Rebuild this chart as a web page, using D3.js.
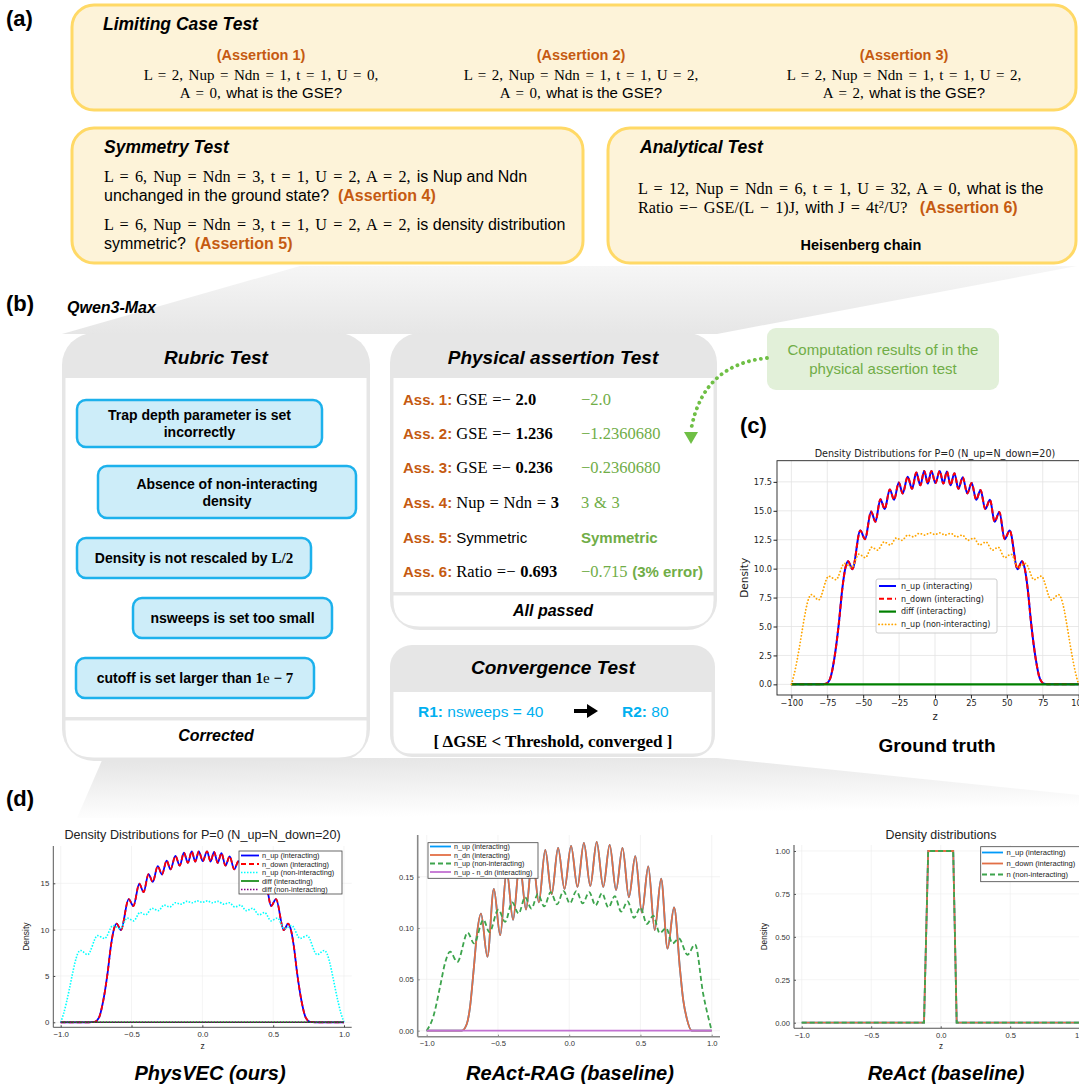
<!DOCTYPE html>
<html><head><meta charset="utf-8">
<script src="https://cdn.jsdelivr.net/npm/d3@7"></script>
<style>
body{margin:0;background:#fff;}
svg{display:block;}
text{white-space:pre;}
</style></head><body>
<svg id="fig" width="1079" height="1090"></svg>
<script>
// ---------- (c) ground truth, positions in lattice sites ----------
const cIntZ = [-100,-80,-76,-73,-70,-67,-64.5,-62.5,-60.5,-57.5,-52,-48.7,-44.5,-41.5,-38,-35,-31.5,-28.5,-25.2,-22.5,-19,-16,-13,-10.2,-7.5,-5,-2.5,0.3,3.3,5.8,8.3,10.8,13.5,16.3,19.3,22.5,25.5,28.7,31.7,35,38.3,41.5,44.8,48.5,52,57.5,60.5,62.5,64.5,67,70,73,76,80,100];
const intN  = [0,0,0.05,0.5,2.3,5.2,8.3,10.0,10.65,9.95,13.3,12.55,14.95,14.05,16.0,15.15,16.85,15.95,17.45,16.5,17.95,16.9,18.3,17.2,18.45,17.35,18.45,17.4,18.45,17.35,18.4,17.2,18.25,16.9,17.9,16.5,17.4,15.95,16.8,15.15,15.95,14.05,14.9,12.55,13.3,9.95,10.65,10.0,8.3,5.2,2.3,0.5,0.05,0,0];
const cNonZ = [-100,-98,-96,-94,-92,-90,-88,-86,-81,-74,-69,-63,-58,-53,-48.5,-44,-40,-35.5,-31,-27,-23,-19,-15,-11,-7,-3.5,0,3.5,7,11,15,19,23,27,31,35.5,40,44,48.5,53,58,63,69,74,81,86,88,90,92,94,96,98,100];
const nonN  = [0,0.9,2.1,3.5,5.0,6.4,7.4,7.75,7.3,9.35,9.05,10.45,10.1,11.25,10.95,11.85,11.6,12.3,12.05,12.65,12.45,12.9,12.75,13.05,12.9,13.1,12.95,13.1,12.9,13.05,12.75,12.9,12.45,12.65,12.05,12.3,11.6,11.85,10.95,11.25,10.1,10.45,9.05,9.35,7.3,7.75,7.4,6.4,5.0,3.5,2.1,0.9,0];
const cDiffZ = [-100, 100];
const zeroN  = [0, 0];
const cTicksX = [-100,-75,-50,-25,0,25,50,75,100];
const cTicksY = [0,2.5,5,7.5,10,12.5,15,17.5];

// ---------- (d) PhysVEC, normalized z ----------
const pIntZ = [-1,-0.8,-0.76,-0.73,-0.7,-0.67,-0.645,-0.625,-0.605,-0.575,-0.52,-0.487,-0.445,-0.415,-0.38,-0.35,-0.315,-0.285,-0.252,-0.225,-0.19,-0.16,-0.13,-0.102,-0.075,-0.05,-0.025,0.003,0.033,0.058,0.083,0.108,0.135,0.163,0.193,0.225,0.255,0.287,0.317,0.35,0.383,0.415,0.448,0.485,0.52,0.575,0.605,0.625,0.645,0.67,0.7,0.73,0.76,0.8,1];
const pNonZ = [-1,-0.98,-0.96,-0.94,-0.92,-0.9,-0.88,-0.86,-0.81,-0.74,-0.69,-0.63,-0.58,-0.53,-0.485,-0.44,-0.4,-0.355,-0.31,-0.27,-0.23,-0.19,-0.15,-0.11,-0.07,-0.035,0,0.035,0.07,0.11,0.15,0.19,0.23,0.27,0.31,0.355,0.4,0.44,0.485,0.53,0.58,0.63,0.69,0.74,0.81,0.86,0.88,0.9,0.92,0.94,0.96,0.98,1];
const normDiffZ = [-1, 1];
const pTicksY = [0,5,10,15];
const normTicksX = [-1,-0.5,0,0.5,1];

// ---------- (d) ReAct-RAG ----------
const rIntZ = [-1,-0.754,-0.72,-0.696,-0.67,-0.649,-0.619,-0.574,-0.529,-0.484,-0.439,-0.394,-0.348,-0.303,-0.258,-0.213,-0.168,-0.123,-0.078,-0.033,0.013,0.058,0.103,0.148,0.193,0.239,0.284,0.329,0.374,0.419,0.464,0.510,0.555,0.600,0.645,0.690,0.736,0.778,0.80,0.825,0.86,1];
const rIntN = [0,0,0.006,0.023,0.06,0.092,0.114,0.072,0.138,0.093,0.156,0.108,0.163,0.118,0.170,0.125,0.176,0.133,0.178,0.138,0.180,0.140,0.183,0.141,0.184,0.140,0.181,0.137,0.178,0.130,0.170,0.115,0.160,0.098,0.148,0.080,0.120,0.059,0.03,0.012,0,0];
const rNonZ = [-1,-0.953,-0.906,-0.871,-0.836,-0.785,-0.712,-0.668,-0.602,-0.56,-0.497,-0.45,-0.40,-0.355,-0.31,-0.265,-0.22,-0.175,-0.13,-0.085,-0.04,0.005,0.05,0.095,0.14,0.185,0.23,0.275,0.32,0.365,0.41,0.455,0.50,0.545,0.59,0.635,0.68,0.725,0.77,0.83,0.883,0.94,1];
const rNonN = [0,0.014,0.043,0.066,0.077,0.067,0.0955,0.085,0.108,0.096,0.118,0.106,0.125,0.114,0.130,0.119,0.133,0.121,0.135,0.123,0.136,0.124,0.136,0.124,0.135,0.122,0.134,0.120,0.131,0.116,0.126,0.110,0.120,0.104,0.112,0.095,0.100,0.085,0.090,0.074,0.084,0.036,0];
const rTicksY = [0,0.05,0.10,0.15];

// ---------- (d) ReAct ----------
const aZ = [-1,-0.12,-0.09,0.09,0.115,1];
const aN = [0,0,1,1,0,0];
const aTicksY = [0,0.25,0.5,0.75,1];

const svg = d3.select('#fig');
const SANS = '"Liberation Sans", Arial, sans-serif';
const SERIF = '"Liberation Serif", "DejaVu Serif", serif';
const ORANGE = '#c55a11', GREEN = '#70ad47', CYANT = '#00b0f0';

const sty = {
  m:  {f: SERIF},
  mb: {f: SERIF, w: 'bold'},
  s:  {f: SANS},
  sb: {f: SANS, w: 'bold'},
  o:  {f: SANS, w: 'bold', c: ORANGE},
  gm: {f: SERIF, c: GREEN},
  gs: {f: SANS, w: 'bold', c: GREEN},
  sup:{f: SERIF, sup: true},
  b1: {f: SANS, w: 'bold', c: CYANT},
  b2: {f: SANS, c: CYANT}
};
// mixed-font line: o = {size, serifSize, ws (word spacing of math runs), anchor}
function rich(parent, x, y, segs, o) {
  const t = parent.append('text').attr('x', x).attr('y', y)
    .attr('font-size', o.size).attr('text-anchor', o.anchor || 'start');
  segs.forEach(([txt, k]) => {
    const s = sty[k];
    const ts = t.append('tspan').text(txt).attr('font-family', s.f)
      .attr('font-weight', s.w || 'normal').attr('fill', s.c || '#000');
    if (s.f === SERIF) {
      ts.attr('font-size', o.serifSize || o.size);
      if (o.ws) ts.attr('word-spacing', o.ws);
    }
    if (s.sup) ts.attr('baseline-shift', 'super').attr('font-size', (o.serifSize || o.size) * 0.65);
  });
  return t;
}
function label(parent, x, y, txt, o) {
  return parent.append('text').attr('x', x).attr('y', y).text(txt)
    .attr('font-family', o.f || SANS).attr('font-size', o.size)
    .attr('font-weight', o.w || 'normal').attr('font-style', o.i ? 'italic' : 'normal')
    .attr('fill', o.c || '#000').attr('text-anchor', o.a || 'start');
}
function bottomRounded(x, y, w, h, r) {
  return `M${x},${y}H${x + w}V${y + h - r}Q${x + w},${y + h} ${x + w - r},${y + h}H${x + r}Q${x},${y + h} ${x},${y + h - r}Z`;
}

const defs = svg.append('defs');
const g1 = defs.append('linearGradient').attr('id', 'fanA').attr('x1', 0).attr('y1', 0).attr('x2', 0).attr('y2', 1);
g1.append('stop').attr('offset', 0).attr('stop-color', '#f6f6f6');
g1.append('stop').attr('offset', 1).attr('stop-color', '#e6e6e6');
const g2 = defs.append('linearGradient').attr('id', 'fanD').attr('x1', 0).attr('y1', 0).attr('x2', 0.25).attr('y2', 1);
g2.append('stop').attr('offset', 0).attr('stop-color', '#e4e4e4');
g2.append('stop').attr('offset', 1).attr('stop-color', '#ffffff');

// connector fans
svg.append('polygon').attr('points', '300,266 1077,266 717,334 62,334').attr('fill', 'url(#fanA)');
svg.append('polygon').attr('points', '103,758 717,758 1079,795 1079,818 77,818').attr('fill', 'url(#fanD)');

// ---------- panel (a) ----------
label(svg, 6, 26, '(a)', {size: 22, w: 'bold'});
const yel = {fill: '#fdf3d9', stroke: '#ffd966'};
svg.append('rect').attr('x', 72).attr('y', 5).attr('width', 1004).attr('height', 105).attr('rx', 22)
  .attr('fill', yel.fill).attr('stroke', yel.stroke).attr('stroke-width', 3);
svg.append('rect').attr('x', 72).attr('y', 128).attr('width', 511).attr('height', 135).attr('rx', 22)
  .attr('fill', yel.fill).attr('stroke', yel.stroke).attr('stroke-width', 3);
svg.append('rect').attr('x', 608).attr('y', 128).attr('width', 468).attr('height', 135).attr('rx', 22)
  .attr('fill', yel.fill).attr('stroke', yel.stroke).attr('stroke-width', 3);

label(svg, 103, 30, 'Limiting Case Test', {size: 17.5, w: 'bold', i: true});
const lim = [
  {cx: 261, n: 1, u: '0', a: '0'},
  {cx: 581, n: 2, u: '2', a: '0'},
  {cx: 904, n: 3, u: '2', a: '2'}
];
const limF = {size: 15, serifSize: 15, ws: 1.8, anchor: 'middle'};
lim.forEach(d => {
  rich(svg, d.cx, 60, [[`(Assertion ${d.n})`, 'o']], {size: 14.5, anchor: 'middle'});
  rich(svg, d.cx, 80, [[`L = 2, Nup = Ndn = 1, t = 1, U = ${d.u},`, 'm']], limF);
  rich(svg, d.cx, 98, [[`A = ${d.a}, `, 'm'], ['what is the GSE?', 's']], limF);
});

const symF = {size: 16, serifSize: 16.2, ws: 2.2};
label(svg, 104, 153, 'Symmetry Test', {size: 17.5, w: 'bold', i: true});
rich(svg, 104, 182, [['L = 6, Nup = Ndn = 3, t = 1, U = 2, A = 2, ', 'm'], ['is Nup and Ndn', 's']], symF);
rich(svg, 104, 201, [['unchanged in the ground state?  ', 's'], ['(Assertion 4)', 'o']], symF);
rich(svg, 104, 230, [['L = 6, Nup = Ndn = 3, t = 1, U = 2, A = 2, ', 'm'], ['is density distribution', 's']], symF);
rich(svg, 104, 249, [['symmetric?  ', 's'], ['(Assertion 5)', 'o']], symF);

label(svg, 640, 153, 'Analytical Test', {size: 17.5, w: 'bold', i: true});
rich(svg, 638, 194, [['L = 12, Nup = Ndn = 6, t = 1, U = 32, A = 0, ', 'm'], ['what is the', 's']], symF);
rich(svg, 638, 213, [['Ratio =− GSE/(L − 1)J, ', 'm'], ['with ', 's'], ['J = 4t', 'm'], ['2', 'sup'], ['/U?  ', 'm'], ['(Assertion 6)', 'o']], symF);
label(svg, 861, 250, 'Heisenberg chain', {size: 14.5, w: 'bold', a: 'middle'});

// ---------- panel (b) ----------
label(svg, 6, 311, '(b)', {size: 22, w: 'bold'});
label(svg, 67, 313, 'Qwen3-Max', {size: 16, w: 'bold', i: true});

const GRAYP = '#e6e6e6';
function card(x0, y0, x1, y1, r, headB, bodyB, footR) {
  svg.append('rect').attr('x', x0).attr('y', y0).attr('width', x1 - x0).attr('height', y1 - y0)
    .attr('rx', r).attr('fill', GRAYP);
  if (footR) {
    svg.append('rect').attr('x', x0 + 3.5).attr('y', headB).attr('width', x1 - x0 - 7).attr('height', bodyB - headB).attr('fill', '#fff');
    svg.append('path').attr('d', bottomRounded(x0 + 3.5, bodyB + 3.5, x1 - x0 - 7, y1 - bodyB - 7, footR)).attr('fill', '#fff');
  } else {
    svg.append('path').attr('d', bottomRounded(x0 + 3.5, headB, x1 - x0 - 7, y1 - headB - 3.5, r - 4)).attr('fill', '#fff');
  }
}
card(62, 333, 370, 761, 32, 378, 717, 28);
label(svg, 216, 364, 'Rubric Test', {size: 19, w: 'bold', i: true, a: 'middle'});
label(svg, 216, 741, 'Corrected', {size: 16, w: 'bold', i: true, a: 'middle'});

const rubric = [
  {x: 77, y: 400, w: 245, h: 47, lines: [[['Trap depth parameter is set', 'sb']], [['incorrectly', 'sb']]]},
  {x: 98, y: 466, w: 258, h: 52, lines: [[['Absence of non-interacting', 'sb']], [['density', 'sb']]]},
  {x: 77, y: 538, w: 234, h: 40, lines: [[['Density is not rescaled by ', 'sb'], ['L/2', 'mb']]]},
  {x: 133, y: 598, w: 199, h: 40, lines: [[['nsweeps is set too small', 'sb']]]},
  {x: 76, y: 658, w: 238, h: 40, lines: [[['cutoff is set larger than ', 'sb'], ['1', 'mb'], ['e', 'm'], [' − 7', 'mb']]]}
];
rubric.forEach(b => {
  svg.append('rect').attr('x', b.x).attr('y', b.y).attr('width', b.w).attr('height', b.h).attr('rx', 9)
    .attr('fill', '#cdedf9').attr('stroke', '#1cb1ec').attr('stroke-width', 2.5);
  const cx = b.x + b.w / 2, n = b.lines.length;
  b.lines.forEach((ln, i) => {
    const yy = b.y + b.h / 2 + 5 + (i - (n - 1) / 2) * 17;
    rich(svg, cx, yy, ln, {size: 14, serifSize: 15, anchor: 'middle'});
  });
});

card(390, 333, 717, 630, 30, 378, 592, 26);
label(svg, 553, 364, 'Physical assertion Test', {size: 19, w: 'bold', i: true, a: 'middle'});
label(svg, 553, 616, 'All passed', {size: 16, w: 'bold', i: true, a: 'middle'});
const phys = [
  {n: 1, left: [['GSE =− ', 'm'], ['2.0', 'mb']], right: [['−2.0', 'gm']]},
  {n: 2, left: [['GSE =− ', 'm'], ['1.236', 'mb']], right: [['−1.2360680', 'gm']]},
  {n: 3, left: [['GSE =− ', 'm'], ['0.236', 'mb']], right: [['−0.2360680', 'gm']]},
  {n: 4, left: [['Nup = Ndn = ', 'm'], ['3', 'mb']], right: [['3 & 3', 'gm']]},
  {n: 5, left: [['Symmetric', 's']], right: [['Symmetric', 'gs']]},
  {n: 6, left: [['Ratio =− ', 'm'], ['0.693', 'mb']], right: [['−0.715 ', 'gm'], ['(3% error)', 'gs']]}
];
const rowY = [405, 439, 473, 508, 543, 577];
phys.forEach((r, i) => {
  rich(svg, 403, rowY[i], [[`Ass. ${r.n}: `, 'o']].concat(r.left), {size: 15, serifSize: 16.5, ws: 0.6});
  rich(svg, 581, rowY[i], r.right, {size: 15, serifSize: 16.5, ws: 0.6});
});

card(390, 645, 715, 757, 22, 692, null, 0);
label(svg, 553, 674, 'Convergence Test', {size: 19, w: 'bold', i: true, a: 'middle'});
rich(svg, 418, 717, [['R1: ', 'b1'], ['nsweeps = 40', 'b2']], {size: 15.5});
rich(svg, 622, 717, [['R2: ', 'b1'], ['80', 'b2']], {size: 15.5});
svg.append('line').attr('x1', 574).attr('x2', 590).attr('y1', 711).attr('y2', 711).attr('stroke', '#000').attr('stroke-width', 4);
svg.append('polygon').attr('points', '587,704 598,711 587,718').attr('fill', '#000');
rich(svg, 553, 747, [['[ ΔGSE < Threshold, converged ]', 'mb']], {size: 17, anchor: 'middle'});

// callout
svg.append('rect').attr('x', 767).attr('y', 328).attr('width', 232).attr('height', 62).attr('rx', 9).attr('fill', '#e2f0d9');
label(svg, 883, 355, 'Computation results of in the', {size: 15, c: GREEN, a: 'middle'});
label(svg, 883, 374, 'physical assertion test', {size: 15, c: GREEN, a: 'middle'});
svg.append('path').attr('d', 'M767,358 C730,362 700,380 691,430').attr('fill', 'none')
  .attr('stroke', '#6fbf45').attr('stroke-width', 3.8).attr('stroke-dasharray', '0.1 6').attr('stroke-linecap', 'round');
svg.append('polygon').attr('points', '684,432 698,432 691,444').attr('fill', '#6fbf45');

// ---------- chart helpers ----------
let clipN = 0;
function chart(o) {
  const g = svg.append('g').attr('font-family', o.font);
  const id = 'clip' + (clipN++);
  defs.append('clipPath').attr('id', id).append('rect')
    .attr('x', o.x0).attr('y', o.y0).attr('width', o.x1 - o.x0).attr('height', o.y1 - o.y0);
  // grid
  const gg = g.append('g').attr('stroke', o.gridC).attr('stroke-width', o.gridW);
  o.xt.forEach(v => gg.append('line').attr('x1', o.x(v)).attr('x2', o.x(v)).attr('y1', o.y0).attr('y2', o.y1));
  o.yt.forEach(v => gg.append('line').attr('y1', o.y(v)).attr('y2', o.y(v)).attr('x1', o.x0).attr('x2', o.x1));
  // series
  const pg = g.append('g').attr('clip-path', `url(#${id})`);
  o.series.forEach(s => {
    const pts = s.xs.map((v, i) => [v, s.ys[i]]);
    pg.append('path').datum(pts)
      .attr('d', d3.line().x(d => o.x(d[0])).y(d => o.y(d[1])).curve(s.curve || d3.curveMonotoneX))
      .attr('fill', 'none').attr('stroke', s.c).attr('stroke-width', s.w)
      .attr('stroke-dasharray', s.dash || null).attr('stroke-linecap', s.cap || 'butt');
  });
  // axes
  const ax = g.append('g').attr('transform', `translate(0,${o.y1})`)
    .call(d3.axisBottom(o.x).tickValues(o.xt).tickFormat(o.xf).tickSize(o.tick).tickSizeOuter(0).tickPadding(o.pad));
  const ay = g.append('g').attr('transform', `translate(${o.x0},0)`)
    .call(d3.axisLeft(o.y).tickValues(o.yt).tickFormat(o.yf).tickSize(o.tick).tickSizeOuter(0).tickPadding(o.pad));
  [ax, ay].forEach(a => {
    a.select('.domain').remove();
    a.selectAll('text').attr('font-family', o.font).attr('font-size', o.tickFs).attr('fill', o.tickC);
    a.selectAll('line').attr('stroke', o.spineC);
  });
  // spines
  if (o.box) {
    g.append('rect').attr('x', o.x0).attr('y', o.y0).attr('width', o.x1 - o.x0).attr('height', o.y1 - o.y0)
      .attr('fill', 'none').attr('stroke', o.spineC).attr('stroke-width', o.spineW);
  } else {
    g.append('line').attr('x1', o.x0).attr('x2', o.x0).attr('y1', o.y0).attr('y2', o.y1).attr('stroke', o.spineC).attr('stroke-width', o.spineW);
    g.append('line').attr('x1', o.x0).attr('x2', o.x1).attr('y1', o.y1).attr('y2', o.y1).attr('stroke', o.spineC).attr('stroke-width', o.spineW);
  }
  if (o.title) label(g, (o.x0 + o.x1) / 2, o.title.y, o.title.t, {f: o.font, size: o.title.size, c: '#222', a: 'middle'});
  if (o.xlab) label(g, (o.x0 + o.x1) / 2, o.xlab.y, 'z', {f: o.font, size: o.xlab.size, c: '#222', a: 'middle'});
  if (o.ylab) label(g, 0, 0, 'Density', {f: o.font, size: o.ylab.size, c: '#222', a: 'middle'})
    .attr('transform', `translate(${o.ylab.x},${(o.y0 + o.y1) / 2}) rotate(-90)`);
  // legend
  const L = o.legend;
  g.append('rect').attr('x', L.x).attr('y', L.y).attr('width', L.w).attr('height', L.h).attr('rx', L.rx || 0)
    .attr('fill', '#fff').attr('fill-opacity', L.op || 1).attr('stroke', L.stroke).attr('stroke-width', L.sw || 1);
  o.series.filter(s => s.name).forEach((s, i) => {
    const yy = L.row0 + i * L.dy;
    g.append('line').attr('x1', L.lx0).attr('x2', L.lx1).attr('y1', yy).attr('y2', yy)
      .attr('stroke', s.c).attr('stroke-width', s.w).attr('stroke-dasharray', s.dash || null).attr('stroke-linecap', s.cap || 'butt');
    label(g, L.tx, yy + L.fs * 0.35, s.name, {f: o.font, size: L.fs, c: '#222'});
  });
  return g;
}

// ---------- (c) ground truth ----------
label(svg, 740, 433, '(c)', {size: 22, w: 'bold'});
chart({
  font: '"DejaVu Sans", sans-serif',
  x: d3.scaleLinear().domain([-110, 110]).range([777, 1093]),
  y: d3.scaleLinear().domain([-0.92, 19.33]).range([695, 460.7]),
  x0: 777, x1: 1093, y0: 460.7, y1: 695,
  xt: cTicksX, yt: cTicksY, xf: d3.format('d'), yf: d3.format('.1f'),
  tick: 3.5, pad: 1.5, tickFs: 8.2, tickC: '#222', spineC: '#222', spineW: 0.9, box: true,
  gridC: '#e3e3e3', gridW: 0.8,
  title: {t: 'Density Distributions for P=0 (N_up=N_down=20)', y: 457, size: 9.6},
  xlab: {y: 720, size: 10}, ylab: {x: 748, size: 10.5},
  series: [
    {name: 'n_up (interacting)', xs: cIntZ, ys: intN, c: '#0000ff', w: 2},
    {name: 'n_down (interacting)', xs: cIntZ, ys: intN, c: '#ff0000', w: 2, dash: '5,3'},
    {name: 'diff (interacting)', xs: cDiffZ, ys: zeroN, c: '#008000', w: 2.2, curve: d3.curveLinear},
    {name: 'n_up (non-interacting)', xs: cNonZ, ys: nonN, c: '#ffa500', w: 1.8, dash: '0.1,3.2', cap: 'round'}
  ],
  legend: {x: 876, y: 579, w: 121, h: 54, rx: 2, stroke: '#cccccc', op: 0.85, row0: 586, dy: 12.8, lx0: 879, lx1: 896, tx: 901, fs: 8}
});
label(svg, 937, 752, 'Ground truth', {size: 19, w: 'bold', a: 'middle'});

// ---------- (d) ----------
label(svg, 6, 806, '(d)', {size: 22, w: 'bold'});
const JF = '"Liberation Sans", Arial, sans-serif';
chart({
  font: JF,
  x: d3.scaleLinear().domain([-1, 1]).range([60.7, 344]),
  y: d3.scaleLinear().domain([0, 15]).range([1022.3, 883.3]),
  x0: 53.3, x1: 351.7, y0: 846, y1: 1027.3,
  xt: normTicksX, yt: pTicksY, xf: d3.format('.1f'), yf: d3.format('d'),
  tick: -2, pad: 4, tickFs: 7.8, tickC: '#333', spineC: '#444', spineW: 0.9, box: false,
  gridC: '#ececec', gridW: 0.6,
  title: {t: 'Density Distributions for P=0 (N_up=N_down=20)', y: 839, size: 12.6},
  xlab: {y: 1049, size: 8.5}, ylab: {x: 29, size: 8.5},
  series: [
    {name: 'n_up (interacting)', xs: pIntZ, ys: intN, c: '#0000ff', w: 1.8},
    {name: 'n_down (interacting)', xs: pIntZ, ys: intN, c: '#ff0000', w: 1.8, dash: '5,3'},
    {name: 'n_up (non-interacting)', xs: pNonZ, ys: nonN, c: '#00ffff', w: 1.6, dash: '1.5,1.5'},
    {name: 'diff (interacting)', xs: normDiffZ, ys: zeroN, c: '#008000', w: 1.6, curve: d3.curveLinear},
    {name: 'diff (non-interacting)', xs: normDiffZ, ys: zeroN, c: '#800080', w: 1.5, dash: '1.5,1.5', curve: d3.curveLinear}
  ],
  legend: {x: 239, y: 851, w: 103, h: 43, stroke: '#444', sw: 0.8, row0: 855.5, dy: 8.5, lx0: 241, lx1: 259, tx: 262, fs: 7.4}
});
label(svg, 210, 1080, 'PhysVEC (ours)', {size: 20, w: 'bold', i: true, a: 'middle'});

chart({
  font: JF,
  x: d3.scaleLinear().domain([-1, 1]).range([426.7, 711.7]),
  y: d3.scaleLinear().domain([0, 0.15]).range([1030.7, 876.7]),
  x0: 417.7, x1: 720, y0: 835, y1: 1036.7,
  xt: normTicksX, yt: rTicksY, xf: d3.format('.1f'), yf: d3.format('.2f'),
  tick: -2, pad: 4, tickFs: 7.6, tickC: '#333', spineC: '#888', spineW: 1.6, box: false,
  gridC: '#ededed', gridW: 0.6,
  series: [
    {name: 'n_up (interacting)', xs: rIntZ, ys: rIntN, c: '#009af9', w: 1.8},
    {name: 'n_dn (interacting)', xs: rIntZ, ys: rIntN, c: '#e26f46', w: 1.8},
    {name: 'n_up (non-interacting)', xs: rNonZ, ys: rNonN, c: '#3da44d', w: 1.8, dash: '5,3'},
    {name: 'n_up - n_dn (interacting)', xs: normDiffZ, ys: zeroN, c: '#c271d2', w: 1.8, curve: d3.curveLinear}
  ],
  legend: {x: 428, y: 842.7, w: 110, h: 35.6, stroke: '#444', sw: 0.8, row0: 846.5, dy: 8.5, lx0: 430, lx1: 451, tx: 454, fs: 7.2}
});
label(svg, 570, 1080, 'ReAct-RAG (baseline)', {size: 20, w: 'bold', i: true, a: 'middle'});

chart({
  font: JF,
  x: d3.scaleLinear().domain([-1, 0]).range([801.7, 940.7]),
  y: d3.scaleLinear().domain([0, 1]).range([1022.7, 851]),
  x0: 794, x1: 1088, y0: 845, y1: 1028.3,
  xt: normTicksX, yt: aTicksY, xf: d3.format('.1f'), yf: d3.format('.2f'),
  tick: -2, pad: 4, tickFs: 7.6, tickC: '#333', spineC: '#555', spineW: 1.1, box: false,
  gridC: '#ededed', gridW: 0.6,
  title: {t: 'Density distributions', y: 839, size: 12.4},
  xlab: {y: 1049, size: 8.2}, ylab: {x: 767, size: 8.2},
  series: [
    {name: 'n_up (interacting)', xs: aZ, ys: aN, c: '#009af9', w: 1.8, curve: d3.curveLinear},
    {name: 'n_down (interacting)', xs: aZ, ys: aN, c: '#e26f46', w: 1.8, curve: d3.curveLinear},
    {name: 'n (non-interacting)', xs: aZ, ys: aN, c: '#3da44d', w: 1.8, dash: '5,3', curve: d3.curveLinear}
  ],
  legend: {x: 980.7, y: 846.7, w: 110, h: 35, stroke: '#444', sw: 0.8, row0: 852.5, dy: 11, lx0: 982, lx1: 1003, tx: 1006.5, fs: 7.6}
});
label(svg, 946, 1080, 'ReAct (baseline)', {size: 20, w: 'bold', i: true, a: 'middle'});
</script>
</body></html>
